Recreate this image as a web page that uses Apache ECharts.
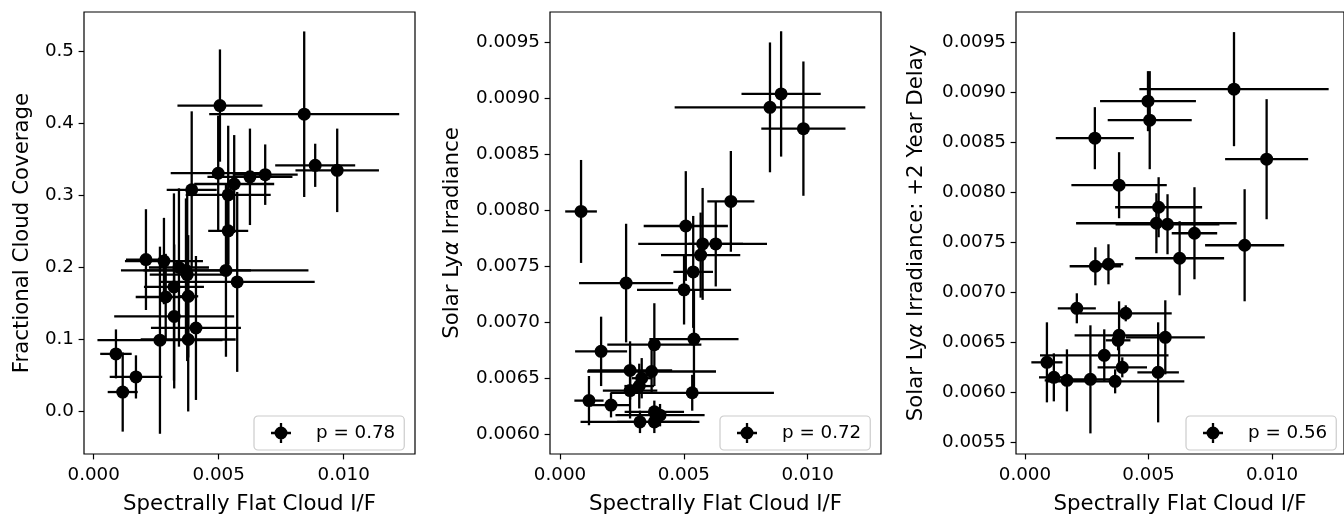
<!DOCTYPE html>
<html><head><meta charset="utf-8">
<script src="https://cdn.jsdelivr.net/npm/echarts@6/dist/echarts.min.js"></script>
<style>html,body{margin:0;padding:0;background:#fff}#c{width:1344px;height:520px}</style>
</head><body><div id="c"></div>
<script>
// ---------- data ----------
const xTicks = [0, 0.005, 0.010];
const p1YTicks = [0.0, 0.1, 0.2, 0.3, 0.4, 0.5];
const p2YTicks = [0.0060, 0.0065, 0.0070, 0.0075, 0.0080, 0.0085, 0.0090, 0.0095];
const p3YTicks = [0.0055, 0.0060, 0.0065, 0.0070, 0.0075, 0.0080, 0.0085, 0.0090, 0.0095];

const xName = 'Spectrally Flat Cloud I/F';
const yNames = ['Fractional Cloud Coverage', 'Solar Ly{a|α} Irradiance', 'Solar Ly{a|α} Irradiance: +2 Year Delay'];
const legendLabels = ['p = 0.78', 'p = 0.72', 'p = 0.56'];

const p1X    = [0.00505,0.00842,0.00886,0.00974,0.00498,0.00625,0.00686,0.00562,0.00538,0.00392,0.00538,0.00529,0.00574,0.00209,0.00281,0.00341,0.00369,0.00374,0.00321,0.00288,0.00378,0.00322,0.00409,0.00265,0.00378,0.00089,0.00169,0.00116];
const p1Xerr = [0.0017,0.0038,0.0016,0.00167,0.0019,0.0017,0.0013,0.0016,0.0017,0.0010,0.0008,0.0033,0.0031,0.0008,0.00156,0.0012,0.0026,0.0015,0.0012,0.0012,0.0004,0.0024,0.0018,0.0025,0.0019,0.00063,0.00105,0.0006];
const p1Y    = [0.425,0.413,0.342,0.335,0.331,0.326,0.329,0.316,0.301,0.308,0.251,0.196,0.180,0.211,0.209,0.200,0.196,0.190,0.173,0.159,0.160,0.132,0.116,0.099,0.100,0.080,0.048,0.027];
const p1Yerr = [0.078,0.115,0.030,0.058,0.080,0.067,0.042,0.068,0.096,0.109,0.060,0.120,0.125,0.070,0.060,0.110,0.100,0.120,0.130,0.060,0.085,0.100,0.100,0.130,0.100,0.034,0.030,0.055];

const p2X    = [0.00085,0.00893,0.00848,0.00983,0.00690,0.00508,0.00576,0.00629,0.00568,0.00538,0.00501,0.00267,0.00541,0.00381,0.00166,0.00283,0.00370,0.00330,0.00320,0.00283,0.00534,0.00117,0.00206,0.00381,0.00404,0.00323,0.00381];
const p2Xerr = [0.00064,0.0016,0.00385,0.0017,0.00095,0.0017,0.0026,0.0011,0.0016,0.0008,0.0019,0.0019,0.0018,0.0019,0.00105,0.0017,0.0026,0.0004,0.0006,0.0011,0.0033,0.00059,0.0008,0.0012,0.0018,0.0024,0.0015];
const p2Y    = [0.00799,0.00904,0.00892,0.00873,0.00808,0.00786,0.00770,0.00770,0.00760,0.00745,0.00729,0.00735,0.00685,0.00680,0.00674,0.00657,0.00656,0.00650,0.00643,0.00639,0.00637,0.00630,0.00626,0.00620,0.00617,0.00611,0.00611];
const p2Yerr = [0.00046,0.00056,0.00058,0.00060,0.00045,0.00049,0.00050,0.00038,0.00038,0.00050,0.00031,0.00053,0.00044,0.00037,0.00031,0.00026,0.00020,0.00018,0.00020,0.00025,0.00016,0.00022,0.00011,0.00010,0.00010,0.00010,0.00010];

const p3X    = [0.00846,0.00498,0.00505,0.00283,0.00978,0.00381,0.00541,0.00532,0.00577,0.00686,0.00889,0.00626,0.00285,0.00338,0.00210,0.00408,0.00568,0.00381,0.00377,0.00321,0.00089,0.00394,0.00539,0.00117,0.00170,0.00265,0.00365];
const p3Xerr = [0.00383,0.00194,0.0017,0.00158,0.00168,0.00193,0.00176,0.00325,0.0021,0.00092,0.0016,0.0018,0.00104,0.0006,0.00077,0.00186,0.0016,0.0018,0.0005,0.0026,0.00063,0.0010,0.00084,0.0006,0.0009,0.0012,0.0028];
const p3Y    = [0.00903,0.00891,0.00872,0.00854,0.00833,0.00807,0.00785,0.00769,0.00768,0.00759,0.00747,0.00734,0.00726,0.00728,0.00684,0.00679,0.00655,0.00657,0.00652,0.00637,0.00630,0.00625,0.00620,0.00615,0.00612,0.00613,0.00611];
const p3Yerr = [0.00057,0.00030,0.00049,0.00031,0.00060,0.00033,0.00030,0.00030,0.00030,0.00046,0.00056,0.00037,0.00019,0.00020,0.00015,0.00008,0.00037,0.00034,0.00010,0.00026,0.00040,0.00010,0.00050,0.00024,0.00031,0.00054,0.00012];

// ---------- layout ----------
const FONT = 'DejaVu Sans';
const grids = [
  {left: 84, top: 12, width: 331, height: 447},
  {left: 550, top: 12, width: 331, height: 447},
  {left: 1016, top: 12, width: 331, height: 447}
];
const xRanges = [[-0.000388, 0.012852], [-0.000404, 0.012964], [-0.000361, 0.012911]];
const yRanges = [[-0.0591, 0.555], [0.005823, 0.009772], [0.005384, 0.009801]];
const yDigits = [1, 4, 4];
const yNameGaps = [51, 87, 89];
const legendLefts = [254, 720, 1186];

const panels = [
  {x: p1X, xe: p1Xerr, y: p1Y, ye: p1Yerr, yTicks: p1YTicks},
  {x: p2X, xe: p2Xerr, y: p2Y, ye: p2Yerr, yTicks: p2YTicks},
  {x: p3X, xe: p3Xerr, y: p3Y, ye: p3Yerr, yTicks: p3YTicks}
];

function renderErr(params, api) {
  const x = api.value(0), y = api.value(1), xe = api.value(2), ye = api.value(3);
  const l = api.coord([x - xe, y]), r = api.coord([x + xe, y]);
  const t = api.coord([x, y + ye]), b = api.coord([x, y - ye]);
  const st = {stroke: '#000', lineWidth: 2.3};
  return {type: 'group', children: [
    {type: 'line', shape: {x1: l[0], y1: l[1], x2: r[0], y2: r[1]}, style: st},
    {type: 'line', shape: {x1: t[0], y1: t[1], x2: b[0], y2: b[1]}, style: st}
  ]};
}

const icon = 'path://M0,8.85h20v2.3h-20z M8.85,0h2.3v20h-2.3z M3.5,10a6.5,6.5 0 1,1 13,0a6.5,6.5 0 1,1 -13,0z';

const option = {
  animation: false,
  backgroundColor: '#fff',
  grid: grids.map(g => Object.assign({show: true, borderColor: '#000', borderWidth: 1.2, backgroundColor: 'transparent'}, g)),
  xAxis: panels.map((p, i) => ({
    type: 'value', gridIndex: i, min: xRanges[i][0], max: xRanges[i][1],
    name: xName, nameLocation: 'middle', nameGap: 40,
    nameTextStyle: {fontFamily: FONT, fontSize: 21.3, color: '#000'},
    axisLine: {show: false, onZero: false},
    axisTick: {show: true, length: 5.4, lineStyle: {color: '#000', width: 1.2}, customValues: xTicks},
    axisLabel: {fontFamily: FONT, fontSize: 18.3, color: '#000', margin: 12, customValues: xTicks,
      formatter: v => v.toFixed(3)},
    splitLine: {show: false}
  })),
  yAxis: panels.map((p, i) => ({
    type: 'value', gridIndex: i, min: yRanges[i][0], max: yRanges[i][1],
    name: yNames[i], nameLocation: 'middle', nameGap: yNameGaps[i],
    nameTextStyle: {fontFamily: FONT, fontSize: 21.3, color: '#000',
      rich: {a: {fontFamily: FONT, fontSize: 21.3, fontStyle: 'italic', color: '#000'}}},
    axisLine: {show: false, onZero: false},
    axisTick: {show: true, length: 5.4, lineStyle: {color: '#000', width: 1.2}, customValues: p.yTicks},
    axisLabel: {fontFamily: FONT, fontSize: 18.3, color: '#000', margin: 10, customValues: p.yTicks,
      formatter: v => v.toFixed(yDigits[i])},
    splitLine: {show: false}
  })),
  legend: panels.map((p, i) => ({
    data: [{name: legendLabels[i], icon: icon}],
    left: legendLefts[i], top: 416, orient: 'horizontal',
    padding: [7, 9, 7, 17], itemWidth: 20, itemHeight: 20,
    backgroundColor: 'rgba(255,255,255,0.8)', borderColor: '#cccccc', borderWidth: 1.2, borderRadius: 4,
    textStyle: {fontFamily: FONT, fontSize: 18.3, color: '#000', padding: [0, 0, 0, 20]},
    selectedMode: false
  })),
  series: []
};

panels.forEach((p, i) => {
  const errData = p.x.map((v, k) => [v, p.y[k], p.xe[k], p.ye[k]]);
  const ptData = p.x.map((v, k) => [v, p.y[k]]);
  option.series.push({
    type: 'custom', xAxisIndex: i, yAxisIndex: i, data: errData,
    encode: {x: 0, y: 1}, renderItem: renderErr, clip: true, z: 2, silent: true
  });
  option.series.push({
    type: 'scatter', name: legendLabels[i], xAxisIndex: i, yAxisIndex: i, data: ptData,
    symbol: 'circle', symbolSize: 13, itemStyle: {color: '#000', opacity: 1}, z: 3, silent: true
  });
});

const chart = echarts.init(document.getElementById('c'), null, {renderer: 'canvas'});
chart.setOption(option);
</script>
</body></html>
